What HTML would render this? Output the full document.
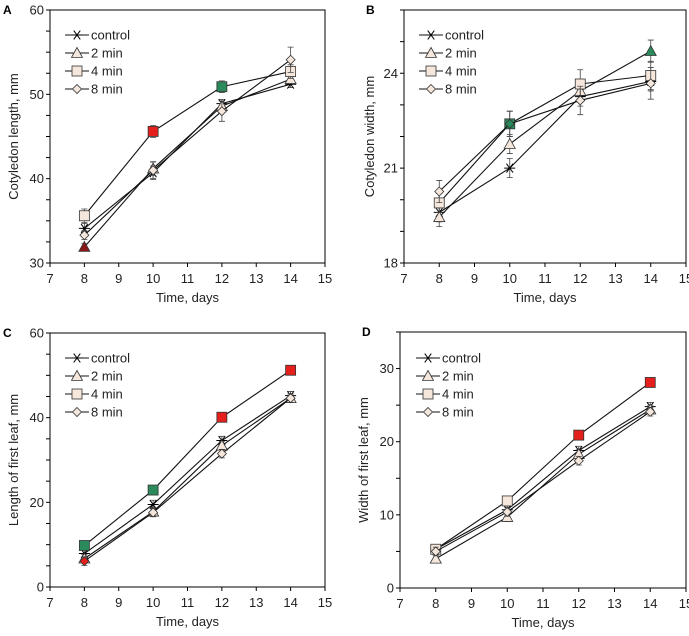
<!DOCTYPE html>
<html><head><meta charset="utf-8"><style>
body{margin:0;background:#fff;}
svg{display:block;font-family:"Liberation Sans",Arial,sans-serif;}
</style></head><body>
<svg id="fig" width="689" height="636" viewBox="0 0 689 636"></svg>
<script>
const days=[8,10,12,14];
const seriesNames=["control","2 min","4 min","8 min"];
// Panel A: cotyledon length
const aControl=[34.1,40.7,48.9,51.2];
const a2min=[31.9,41.2,48.6,51.8];
const a4min=[35.6,45.6,50.9,52.7];
const a8min=[33.3,41.0,48.0,54.1];
const aErr=[[0.6,0.8,0.5,0.4],[0.4,0.8,0.6,0.5],[0.8,0.7,0.7,0.8],[0.5,1.0,1.2,1.5]];
// Panel B: cotyledon width
const bControl=[19.6,21.0,23.26,23.74];
const b2min=[19.45,21.76,23.44,24.7];
const b4min=[19.9,22.4,23.66,23.93];
const b8min=[20.26,22.4,23.14,23.68];
const bErr=[[0.3,0.3,0.3,0.3],[0.3,0.3,0.3,0.35],[0.3,0.4,0.45,0.45],[0.35,0.4,0.45,0.5]];
// Panel C: length of first leaf
const cControl=[7.9,19.5,34.6,45.2];
const c2min=[6.7,17.8,33.4,44.6];
const c4min=[9.8,22.9,40.1,51.2];
const c8min=[6.1,17.6,31.5,44.6];
// Panel D: width of first leaf
const dControl=[5.3,10.7,18.8,24.8];
const d2min=[4.0,9.7,18.3,24.4];
const d4min=[5.3,11.9,20.9,28.1];
const d8min=[5.0,10.4,17.4,24.1];
const xTicks=[7,8,9,10,11,12,13,14,15];
const aTicks=[30,40,50,60], bTicks=[18,21,24], cTicks=[0,20,40,60], dTicks=[0,10,20,30];

const RED="#e41f1c",GREEN="#2a8a5b",DRED="#8a1818",OPEN="#f6e7dd";
const NS="http://www.w3.org/2000/svg";
const svg=document.getElementById('fig');
function mk(tag,attrs,parent){const e=document.createElementNS(NS,tag);for(const k in attrs)e.setAttribute(k,attrs[k]);(parent||svg).appendChild(e);return e;}

function marker(g,type,x,y,fill,small){
  const s=small?4.5:5.5;
  let e;
  if(type==="star"){
    e=mk('g',{},g);
    mk('path',{d:`M${x-s} ${y}H${x+s}M${x-s*0.6} ${y-s*0.8}L${x+s*0.6} ${y+s*0.8}M${x-s*0.6} ${y+s*0.8}L${x+s*0.6} ${y-s*0.8}`,stroke:'#000','stroke-width':1},e);
  }else if(type==="tri"){
    e=mk('path',{d:`M${x} ${y-s}L${x+s} ${y+s*0.8}L${x-s} ${y+s*0.8}Z`,fill:fill,stroke:'#333','stroke-width':0.8},g);
  }else if(type==="sq"){
    e=mk('rect',{x:x-s+0.5,y:y-s+0.5,width:2*s-1,height:2*s-1,fill:fill,stroke:'#333','stroke-width':0.8},g);
  }else{
    e=mk('path',{d:`M${x} ${y-s}L${x+s} ${y}L${x} ${y+s}L${x-s} ${y}Z`,fill:fill,stroke:'#333','stroke-width':0.8},g);
  }
  return e;
}

function panel(p){
  const g=mk('g',{});
  
  
  const X=v=>p.l+(v-7)/8*(p.r-p.l);
  const Y=v=>p.b-(v-p.ymin)/(p.ymax-p.ymin)*(p.b-p.t);
  const lab=mk('text',{x:p.lx,y:p.t+4,'font-size':12,'font-weight':'bold'},g);lab.textContent=p.letter;
  
  const fr=mk('rect',{x:p.l,y:p.t,width:p.r-p.l,height:p.b-p.t,fill:'none',stroke:'#000','stroke-width':1},g);
  
  const xa=mk('g',{},g);
  xTicks.forEach(v=>{mk('line',{x1:X(v),x2:X(v),y1:p.b,y2:p.b+4,stroke:'#000'},xa);
    const t=mk('text',{x:X(v),y:p.b+20,'font-size':13,'text-anchor':'middle',fill:'#222'},xa);t.textContent=v;});
  const xt=mk('text',{x:(p.l+p.r)/2,y:p.b+39,'font-size':13,'text-anchor':'middle',fill:'#222'},g);xt.textContent="Time, days";
  
  const ya=mk('g',{},g);
  for(let v=p.ymin;v<=p.ymax+1e-9;v+=p.minor){mk('line',{x1:p.l-4,x2:p.l,y1:Y(v),y2:Y(v),stroke:'#000'},ya);}
  p.ticks.forEach(v=>{const t=mk('text',{x:p.l-6,y:Y(v)+4.5,'font-size':13,'text-anchor':'end',fill:'#222'},ya);t.textContent=v;});
  const yt=mk('text',{x:0,y:0,'font-size':13,'text-anchor':'middle',fill:'#222',transform:`translate(${p.l-p.ytOff},${(p.t+p.b)/2}) rotate(-90)`},g);yt.textContent=p.ytitle;
  
  const types=["star","tri","sq","dia"];
  p.series.forEach((vals,i)=>{
    const sg=mk('g',{},g);
    
    
    mk('polyline',{points:vals.map((v,j)=>X(days[j])+','+Y(v)).join(' '),fill:'none',stroke:'#111','stroke-width':1.1},sg);
    vals.forEach((v,j)=>{
      const e=p.err?p.err[i][j]:0.5*(p.ymax-p.ymin)/30;
      mk('path',{d:`M${X(days[j])} ${Y(v-e)}V${Y(v+e)}M${X(days[j])-3} ${Y(v-e)}h6M${X(days[j])-3} ${Y(v+e)}h6`,stroke:'#444','stroke-width':0.8},sg);
    });
    vals.forEach((v,j)=>{
      const col=(p.colors[i]&&p.colors[i][j])||OPEN;
      const m=marker(sg,types[i],X(days[j]),Y(v),col,types[i]==="dia");
      
      
    });
  });
  const lg=mk('g',{},g);
  seriesNames.forEach((n,i)=>{
    const y=p.t+p.lgOff+i*18, x0=p.l+p.lgX;
    const le=mk('g',{},lg);
    mk('line',{x1:x0,x2:x0+24,y1:y,y2:y,stroke:'#111','stroke-width':1.1},le);
    marker(le,types[i],x0+12,y,OPEN,i===3);
    const t=mk('text',{x:x0+26,y:y+4.5,'font-size':13,fill:'#222'},le);t.textContent=n;
  });
}

panel({letter:"A",lx:3,ytOff:32,l:50,r:325,t:10,b:263,ymin:30,ymax:60,minor:2.5,ticks:aTicks,ytitle:"Cotyledon length, mm",
  series:[aControl,a2min,a4min,a8min],err:aErr,lgOff:25,lgX:15,
  colors:[null,[DRED],[null,RED,GREEN],null]});
panel({letter:"B",lx:366,ytOff:30,l:404,r:686,t:10,b:263,ymin:18,ymax:26,minor:1,ticks:bTicks,ytitle:"Cotyledon width, mm",
  series:[bControl,b2min,b4min,b8min],err:bErr,lgOff:25,lgX:15,
  colors:[null,[null,null,null,GREEN],[null,GREEN],[null,GREEN]]});
panel({letter:"C",lx:3,ytOff:32,l:50,r:325,t:333,b:587,ymin:0,ymax:60,minor:5,ticks:cTicks,ytitle:"Length of first leaf, mm",
  series:[cControl,c2min,c4min,c8min],lgOff:25,lgX:15,
  colors:[null,null,[GREEN,GREEN,RED,RED],[RED]]});
panel({letter:"D",lx:362,ytOff:32,l:400,r:686,t:332,b:588,ymin:0,ymax:35,minor:5,ticks:dTicks,ytitle:"Width of first leaf, mm",
  series:[dControl,d2min,d4min,d8min],lgOff:26,lgX:16,
  colors:[null,null,[null,null,RED,RED],null]});
</script>
</body></html>
